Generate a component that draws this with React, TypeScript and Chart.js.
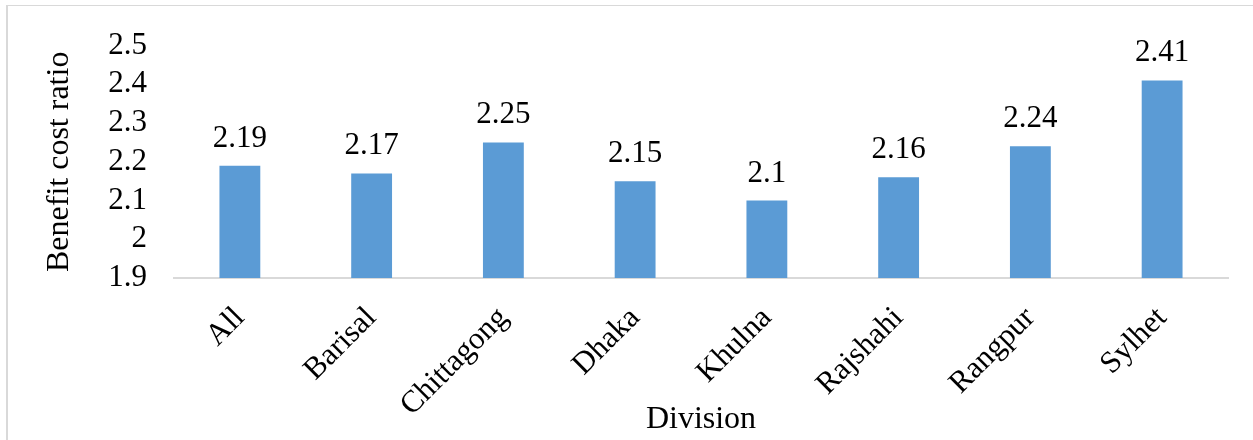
import React, { useEffect, useRef } from "react";
import { Chart, registerables } from "chart.js";

Chart.register(...registerables);

// Benefit cost ratio by division
const divisions = ["All", "Barisal", "Chittagong", "Dhaka", "Khulna", "Rajshahi", "Rangpur", "Sylhet"];
const ratios = [2.19, 2.17, 2.25, 2.15, 2.1, 2.16, 2.24, 2.41];
const yTickValues = [1.9, 2.0, 2.1, 2.2, 2.3, 2.4, 2.5];

const FONT = '"Liberation Serif", "Times New Roman", serif';
const BAR_COLOR = "#5B9BD5";
const AXIS_COLOR = "#D9D9D9";

// Writes each bar's value above it
const valueLabels = {
  id: "valueLabels",
  afterDatasetsDraw(chart: any) {
    const { ctx } = chart;
    const meta = chart.getDatasetMeta(0);
    const data = chart.data.datasets[0].data as number[];
    ctx.save();
    ctx.font = `31px ${FONT}`;
    ctx.fillStyle = "#000";
    ctx.textAlign = "center";
    ctx.textBaseline = "alphabetic";
    meta.data.forEach((bar: any, i: number) => {
      ctx.fillText(String(data[i]), bar.x, bar.y - 19);
    });
    ctx.restore();
  },
};

function formatTick(v: number): string {
  return String(Math.round(v * 10) / 10);
}

export default function App() {
  const canvasRef = useRef<HTMLCanvasElement | null>(null);

  useEffect(() => {
    if (!canvasRef.current) return;
    const chart = new Chart(canvasRef.current, {
      type: "bar",
      data: {
        labels: divisions,
        datasets: [
          {
            data: ratios,
            backgroundColor: BAR_COLOR,
            borderWidth: 0,
            barPercentage: 0.31,
            categoryPercentage: 1,
          },
        ],
      },
      options: {
        animation: false,
        responsive: true,
        maintainAspectRatio: false,
        layout: { padding: { top: 44, right: 25, left: 0, bottom: 0 } },
        plugins: {
          legend: { display: false },
          tooltip: { enabled: false },
        },
        scales: {
          x: {
            grid: { display: false, drawTicks: false },
            border: { display: true, color: AXIS_COLOR, width: 2 },
            ticks: {
              color: "#000",
              font: { family: FONT, size: 31 },
              maxRotation: 45,
              minRotation: 45,
              padding: 22,
              autoSkip: false,
            },
            title: {
              display: true,
              text: "Division",
              color: "#000",
              font: { family: FONT, size: 32 },
              padding: { top: 0, bottom: 1 },
            },
            afterFit(scale: any) {
              scale.height = 162;
            },
          },
          y: {
            min: 1.9,
            max: 2.5,
            grid: { display: false, drawTicks: false },
            border: { display: false },
            ticks: {
              color: "#000",
              font: { family: FONT, size: 31 },
              padding: 27,
              autoSkip: false,
              callback: (v: any) => formatTick(Number(v)),
            },
            afterBuildTicks(scale: any) {
              scale.ticks = yTickValues.map((value) => ({ value }));
            },
            title: {
              display: true,
              text: "Benefit cost ratio",
              color: "#000",
              font: { family: FONT, size: 32 },
              padding: { top: 40, bottom: 0 },
            },
            afterFit(scale: any) {
              scale.width = 174;
            },
          },
        },
      },
      plugins: [valueLabels],
    });
    return () => chart.destroy();
  }, []);

  return (
    <div
      style={{
        position: "absolute",
        left: 0,
        top: 0,
        width: 1253,
        height: 440,
        background: "#fff",
        overflow: "hidden",
      }}
    >
      <canvas ref={canvasRef} />
      <div
        style={{
          position: "absolute",
          left: 6,
          top: 5,
          width: 1300,
          height: 500,
          borderLeft: `2px solid ${AXIS_COLOR}`,
          borderTop: `1px solid ${AXIS_COLOR}`,
          pointerEvents: "none",
        }}
      />
    </div>
  );
}
